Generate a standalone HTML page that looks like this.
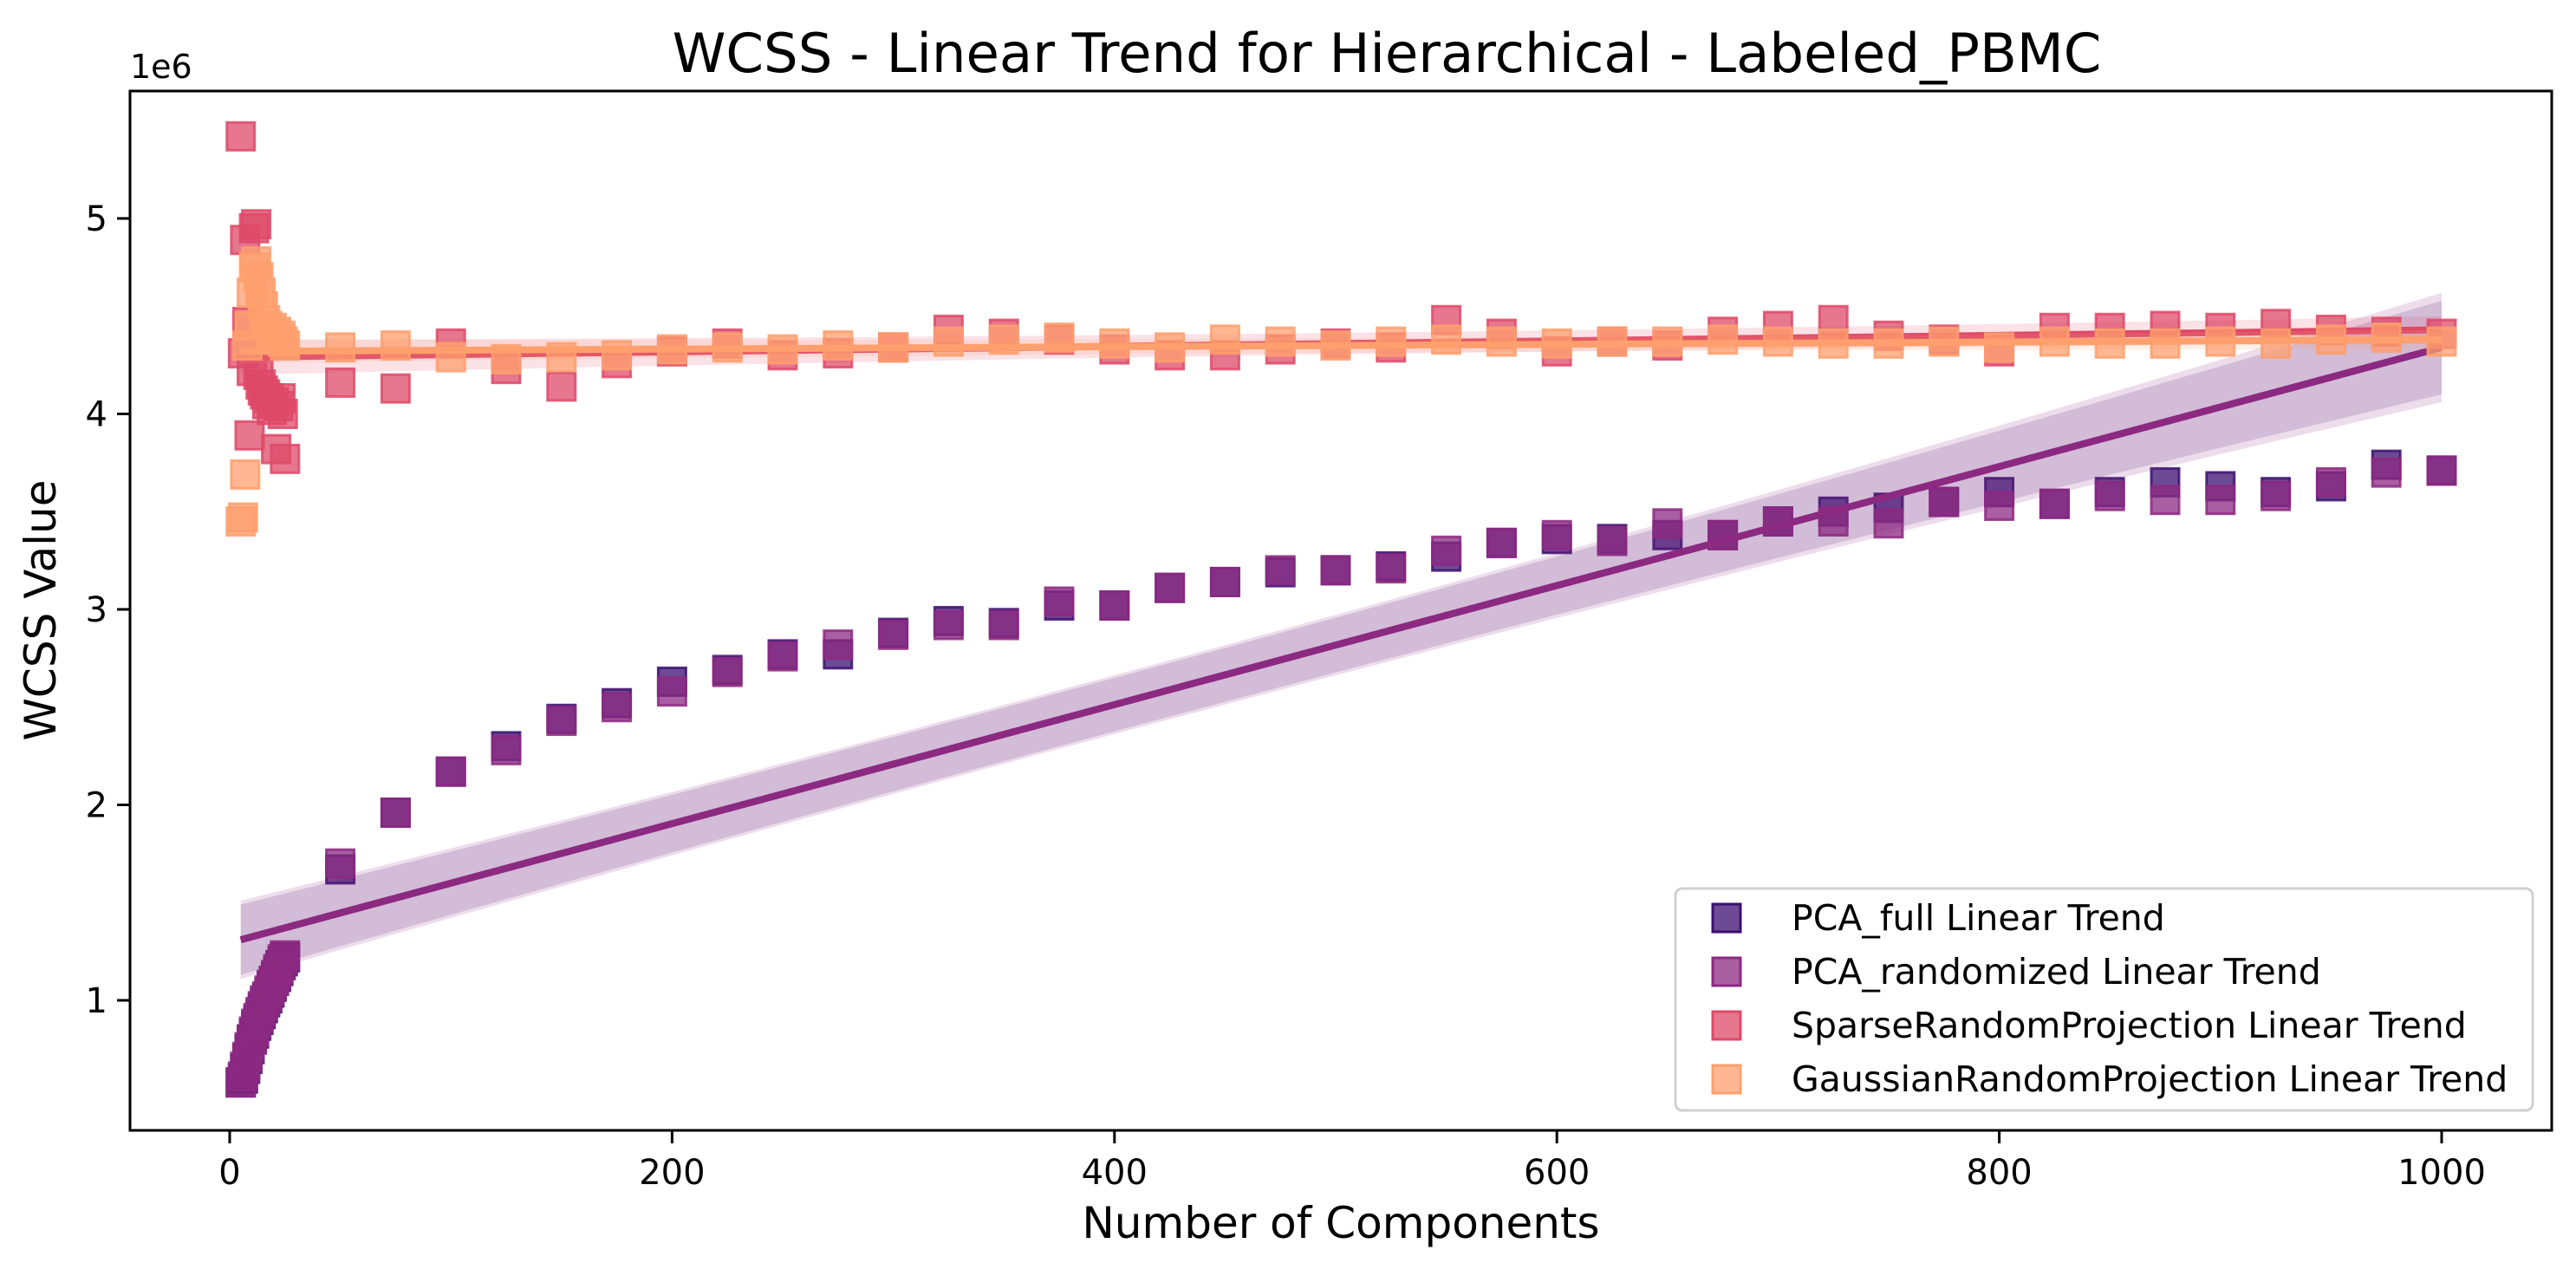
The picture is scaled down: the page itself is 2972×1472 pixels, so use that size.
<!DOCTYPE html>
<html><head><meta charset="utf-8"><style>
body{margin:0;background:#fff}
svg text{font-family:"DejaVu Sans","Liberation Sans",sans-serif}
</style></head><body>
<svg id="chart" xmlns="http://www.w3.org/2000/svg" width="2972" height="1467" viewBox="0 0 2972 1467">
<rect width="2972" height="1467" fill="#fff"/>
<text x="1600" y="83" font-size="62.5" text-anchor="middle">WCSS - Linear Trend for Hierarchical - Labeled_PBMC</text>
<text x="1547" y="1428" font-size="50" text-anchor="middle">Number of Components</text>
<text x="0" y="0" font-size="50" text-anchor="middle" transform="translate(64,704) rotate(-90)">WCSS Value</text>
<text x="150" y="90" font-size="38">1e6</text>
<g id="plot"></g>
<g id="axes"></g>
<g id="legend"></g>
</svg>
<script>
const earlyX = [5,6,7,8,9,10,11,12,13,14,15,16,17,18,19,20,21,22,23,24,25];
const lateX = [50,75,100,125,150,175,200,225,250,275,300,325,350,375,400,425,450,475,500,525,550,575,600,625,650,675,700,725,750,775,800,825,850,875,900,925,950,975,1000];
const pcaFull = [0.58,0.6,0.65,0.7,0.75,0.8,0.83,0.87,0.9,0.93,0.96,0.99,1.01,1.04,1.07,1.1,1.12,1.15,1.18,1.2,1.22,
 1.67,1.96,2.17,2.3,2.44,2.52,2.63,2.69,2.77,2.77,2.88,2.94,2.93,3.02,3.02,3.11,3.14,3.19,3.2,3.22,3.27,3.34,3.36,3.36,3.38,3.38,3.45,3.5,3.52,3.55,3.6,3.54,3.6,3.65,3.63,3.6,3.63,3.74,3.71];
const pcaRand = [0.58,0.61,0.66,0.71,0.76,0.8,0.84,0.88,0.91,0.94,0.97,1.0,1.02,1.05,1.08,1.1,1.13,1.16,1.18,1.21,1.23,
 1.7,1.96,2.17,2.28,2.43,2.5,2.58,2.68,2.76,2.82,2.87,2.92,2.92,3.04,3.02,3.11,3.14,3.2,3.2,3.21,3.3,3.34,3.38,3.35,3.44,3.38,3.45,3.45,3.44,3.55,3.53,3.54,3.58,3.56,3.56,3.58,3.65,3.7,3.71];
const sparse = [5.42,4.31,4.89,4.47,3.89,4.22,4.95,4.97,4.2,4.15,4.12,4.1,4.05,4.08,4.02,4.06,3.82,4.04,4.08,4.0,3.77,
 4.16,4.13,4.36,4.23,4.14,4.26,4.32,4.36,4.3,4.31,4.34,4.43,4.41,4.38,4.33,4.3,4.3,4.33,4.36,4.34,4.48,4.41,4.32,4.37,4.35,4.42,4.45,4.48,4.4,4.38,4.32,4.44,4.44,4.45,4.44,4.46,4.43,4.42,4.41];
const gauss = [3.45,3.47,3.69,4.35,4.45,4.62,4.75,4.78,4.7,4.62,4.55,4.48,4.45,4.42,4.44,4.4,4.42,4.38,4.4,4.37,4.35,
 4.34,4.35,4.29,4.28,4.29,4.3,4.33,4.34,4.33,4.35,4.34,4.37,4.38,4.39,4.36,4.34,4.38,4.37,4.35,4.37,4.38,4.37,4.36,4.37,4.37,4.38,4.37,4.36,4.36,4.37,4.34,4.37,4.36,4.36,4.37,4.36,4.38,4.39,4.37];
const trendStart = [1.31,1.31,4.29,4.32];
const trendEnd = [4.34,4.34,4.43,4.38];
const bandStart = [0.18,0.2,0.09,0.06];
const bandMid = [0.07,0.07,0.03,0.02];
const bandEnd = [0.24,0.28,0.07,0.05];
const names = ["PCA_full Linear Trend","PCA_randomized Linear Trend","SparseRandomProjection Linear Trend","GaussianRandomProjection Linear Trend"];
const xTicks = [0,200,400,600,800,1000];
const yTicks = [1,2,3,4,5];

const fills=["#3b0f70","#8c2981","#de4968","#fe9f6d"];
const NS="http://www.w3.org/2000/svg";
const L=150,R=2944,T=105,B=1304;
function X(v){return 265+v*2.552;}
function Y(v){return 1154-(v-1)*225.5;}
function mk(tag,attrs,parent){const e=document.createElementNS(NS,tag);for(const k in attrs)e.setAttribute(k,attrs[k]);parent.appendChild(e);return e;}
const plot=document.getElementById('plot'),axes=document.getElementById('axes'),leg=document.getElementById('legend');
const allX=earlyX.concat(lateX);
const series=[pcaFull,pcaRand,sparse,gauss];
series.forEach((vals,si)=>{
  const g=mk('g',{},plot);
  
  
  vals.forEach((v,i)=>{
    const r=mk('rect',{x:X(allX[i])-16,y:Y(v)-16,width:32,height:32,fill:fills[si],'fill-opacity':0.75,stroke:fills[si],'stroke-opacity':0.85,'stroke-width':3},g);
    
    
  });
  const x0=5,x1=1000;
  const f=x=>trendStart[si]+(trendEnd[si]-trendStart[si])*(x-x0)/(x1-x0);
  const pts=[];const n=20;
  const hw=x=>{const t=(x-x0)/(x1-x0);return bandStart[si]*(1-t)*(1-t)+bandMid[si]*2*t*(1-t)+bandEnd[si]*t*t;};
  for(let k=0;k<=n;k++){const x=x0+(x1-x0)*k/n;pts.push(X(x)+','+Y(f(x)+hw(x)));}
  for(let k=n;k>=0;k--){const x=x0+(x1-x0)*k/n;pts.push(X(x)+','+Y(f(x)-hw(x)));}
  const band=mk('polygon',{points:pts.join(' '),fill:fills[si],'fill-opacity':0.16},g);
  
  
  const ln=mk('line',{x1:X(x0),y1:Y(f(x0)),x2:X(x1),y2:Y(f(x1)),stroke:fills[si===0?1:si],'stroke-width':8},g);
  
  
});
const frame=mk('rect',{x:L,y:T,width:R-L,height:B-T,fill:'none',stroke:'#000','stroke-width':3},axes);


xTicks.forEach(t=>{
  const tk=mk('line',{x1:X(t),y1:B,x2:X(t),y2:B+15,stroke:'#000','stroke-width':3},axes);
  
  
  const tx=mk('text',{x:X(t),y:B+62,'font-size':40,'text-anchor':'middle'},axes);
  tx.textContent=t;
  
  
});
yTicks.forEach(t=>{
  const tk=mk('line',{x1:L-15,y1:Y(t),x2:L,y2:Y(t),stroke:'#000','stroke-width':3},axes);
  
  
  const tx=mk('text',{x:L-26,y:Y(t)+14,'font-size':40,'text-anchor':'end'},axes);
  tx.textContent=t;
  
  
});
const box=mk('rect',{x:1933,y:1025,width:989,height:256,rx:8,fill:'#fff','fill-opacity':0.8,stroke:'#d0d0d0','stroke-width':3},leg);


names.forEach((nm,i)=>{
  const cy=1059+i*62;
  const m=mk('rect',{x:1976,y:cy-16,width:32,height:32,fill:fills[i],'fill-opacity':0.75,stroke:fills[i],'stroke-width':3},leg);
  
  
  const t=mk('text',{x:2067,y:cy+14,'font-size':41},leg);
  t.textContent=nm;
  
  
});
</script>
</body></html>
